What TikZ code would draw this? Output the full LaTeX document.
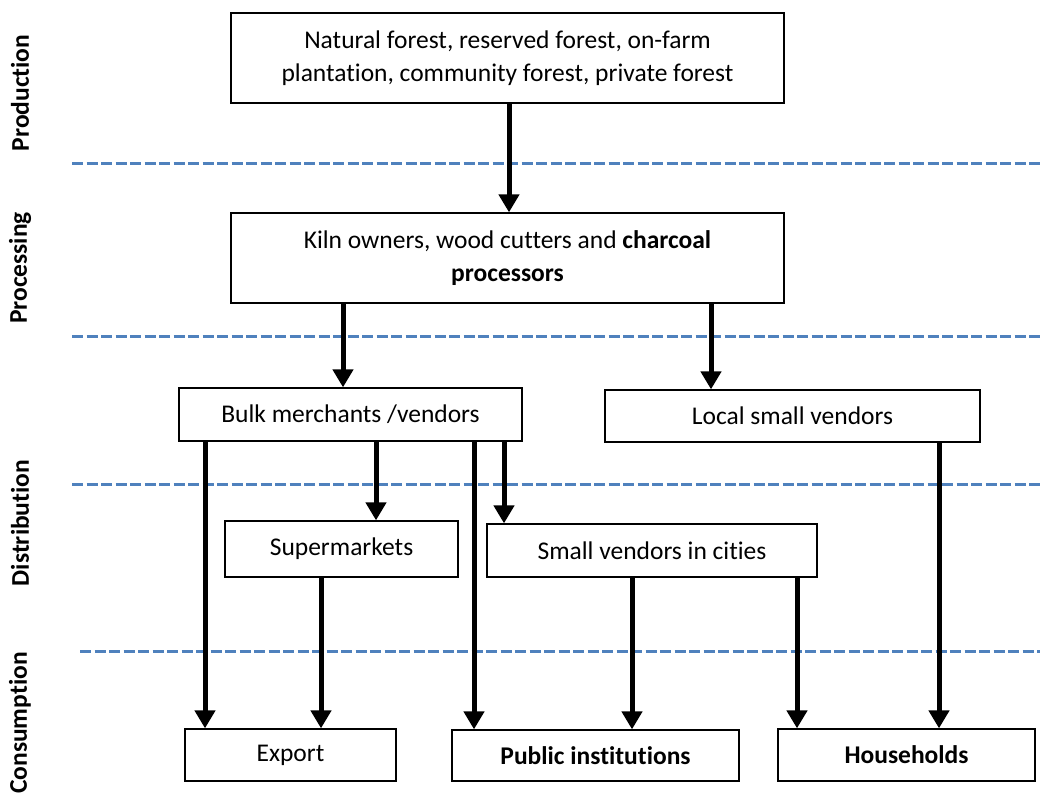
\documentclass[tikz,border=0pt]{standalone}
\usepackage{fontspec}
\setmainfont{Carlito}[Ligatures=NoCommon]
\usetikzlibrary{arrows.meta}
\definecolor{sepblue}{RGB}{79,129,189}
\begin{document}
\begin{tikzpicture}[x=1pt,y=-1pt,
  box/.style={draw=black,line width=1.3pt,inner sep=0pt,align=center,font=\fontsize{25.5}{33}\selectfont},
  arr/.style={line width=5pt,-{Triangle[width=20pt,length=18pt]}},
  sep/.style={sepblue,line width=3pt,dash pattern=on 11pt off 3.5pt},
  side/.style={rotate=90,font=\fontsize{25.5}{30}\selectfont\bfseries,inner sep=0pt}]
\useasboundingbox (0,0) rectangle (1042,794);
% separators
\draw[sep] (72,164) -- (1040,164);
\draw[sep] (72,337) -- (1040,337);
\draw[sep] (72,484) -- (1040,484);
\draw[sep] (80,651) -- (1040,651);
% side labels
\node[side] (lprod) at (20,93) {Production};
\node[side] (lproc) at (20,268) {Processing};
\node[side] (ldist) at (20,523) {Distribution};
\node[side] (lcons) at (20,723) {Consumption};
% boxes
\node[box,minimum width=553pt,minimum height=90pt] (prod) at (507.5,58) {Natural forest, reserved forest, on-farm\\plantation, community forest, private forest};
\node[box,minimum width=553pt,minimum height=90pt] (proc) at (507.5,258) {Kiln owners, wood cutters and \textbf{charcoal}\\\textbf{processors}};
\node[box,minimum width=343pt,minimum height=53pt] (bulk) at (350.5,414.5) {Bulk merchants /vendors};
\node[box,minimum width=375pt,minimum height=52pt] (local) at (792.5,416) {Local small vendors};
\node[box,minimum width=233pt,minimum height=56pt] (super) at (341.5,549) {Supermarkets};
\node[box,minimum width=330pt,minimum height=53pt] (small) at (652,550.5) {Small vendors in cities};
\node[box,minimum width=211pt,minimum height=52pt] (export) at (290.5,755) {\vphantom{Ekl}Export};
\node[box,minimum width=287pt,minimum height=51pt] (public) at (595.5,755.5) {\textbf{Public institutions}};
\node[box,minimum width=257pt,minimum height=52pt] (house) at (906.5,755) {\textbf{Households}};
% arrows
\draw[arr] (prod.south -| 509,0) -- (proc.north -| 509,0);
\draw[arr] (proc.south -| 343,0) -- (bulk.north -| 343,0);
\draw[arr] (proc.south -| 711,0) -- (local.north -| 711,0);
\draw[arr] (bulk.south -| 205,0) -- (export.north -| 205,0);
\draw[arr] (bulk.south -| 376,0) -- (super.north -| 376,0);
\draw[arr] (bulk.south -| 474,0) -- (public.north -| 474,0);
\draw[arr] (bulk.south -| 504,0) -- (small.north -| 504,0);
\draw[arr] (super.south -| 321,0) -- (export.north -| 321,0);
\draw[arr] (small.south -| 632,0) -- (public.north -| 632,0);
\draw[arr] (small.south -| 797,0) -- (house.north -| 797,0);
\draw[arr] (local.south -| 939,0) -- (house.north -| 939,0);
\end{tikzpicture}
\end{document}
